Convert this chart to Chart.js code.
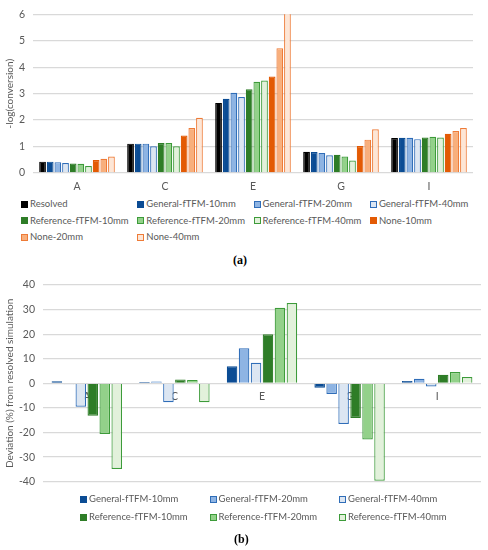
<!DOCTYPE html>
<html><head><meta charset="utf-8">
<script src="https://cdn.jsdelivr.net/npm/chart.js@4"></script>
<style>
html,body{margin:0;padding:0;background:#fff;width:488px;height:550px;overflow:hidden;font-family:Lato,"Open Sans",sans-serif;}
.wrap{position:absolute;left:0;}
.leg{position:absolute;font-size:9.5px;color:#595959;white-space:nowrap;line-height:12px;}
.leg i{display:inline-block;width:7px;height:7px;margin-right:2px;vertical-align:-0.5px;box-sizing:border-box;}
.cap{position:absolute;font-family:"Liberation Serif","DejaVu Serif",serif;font-weight:bold;font-size:12px;color:#000;}
</style></head><body>
<div class="wrap" style="top:0"><canvas id="c1" width="488" height="195"></canvas></div>
<div class="wrap" style="top:270px"><canvas id="c2" width="488" height="226"></canvas></div>
<div id="leg1"></div><div id="leg2"></div>
<div class="cap" style="left:233px;top:253px">(a)</div>
<div class="cap" style="left:234px;top:532px">(b)</div>
<script>
const categories = ['A','C','E','G','I'];
const seriesNames = ['Resolved','General-fTFM-10mm','General-fTFM-20mm','General-fTFM-40mm','Reference-fTFM-10mm','Reference-fTFM-20mm','Reference-fTFM-40mm','None-10mm','None-20mm','None-40mm'];
// top chart: -log(conversion)
const resolved   = [0.43, 1.11, 2.65, 0.80, 1.32];
const gen10      = [0.43, 1.11, 2.81, 0.79, 1.33];
const gen20      = [0.41, 1.11, 3.03, 0.76, 1.33];
const gen40      = [0.38, 1.01, 2.87, 0.67, 1.28];
const ref10      = [0.36, 1.13, 3.17, 0.69, 1.34];
const ref20      = [0.35, 1.13, 3.45, 0.62, 1.37];
const ref40      = [0.26, 1.01, 3.50, 0.47, 1.34];
const none10     = [0.49, 1.42, 3.65, 1.02, 1.48];
const none20     = [0.54, 1.70, 4.72, 1.26, 1.59];
const none40     = [0.62, 2.09, 6.30, 1.65, 1.70];
const topTicks   = [0,1,2,3,4,5,6];
// bottom chart: deviation (%) from resolved simulation
const devGen10 = [0.9, 0.5, 7.0, -1.8, 1.0];
const devGen20 = [-0.4, 0.8, 14.3, -4.3, 1.9];
const devGen40 = [-9.5, -7.7, 8.4, -16.5, -1.3];
const devRef10 = [-13.2, 1.6, 20.0, -14.1, 3.5];
const devRef20 = [-20.6, 1.4, 30.7, -22.8, 4.6];
const devRef40 = [-34.8, -7.7, 32.7, -39.6, 2.6];
const bottomTicks = [-40,-30,-20,-10,0,10,20,30,40];

const fills   = ['#000000','#0B4C94','#8EB4E3','#DCE6F2','#2E7D27','#93D18A','#E2F1DB','#E35A04','#F8AF7C','#FDE6D6'];
const borders = ['#000000','#0B4C94','#2F6DB8','#2F6DB8','#2E7D27','#3D9B3A','#3D9B3A','#E35A04','#EE7B37','#EE7B37'];
const topData = [resolved,gen10,gen20,gen40,ref10,ref20,ref40,none10,none20,none40];
const botData = [devGen10,devGen20,devGen40,devRef10,devRef20,devRef40];
const botIdx = [1,2,3,4,5,6];

const FONT = 'Lato, "Open Sans", sans-serif';
const GRAY = '#595959';
Chart.defaults.font.family = FONT;
Chart.defaults.color = GRAY;
Chart.defaults.animation = false;

new Chart(document.getElementById('c1'), {
  type:'bar',
  data:{labels:categories, datasets: topData.map((d,i)=>({label:seriesNames[i],data:d,backgroundColor:fills[i],borderColor:borders[i],borderWidth:1.2,categoryPercentage:0.87,barPercentage:0.88}))},
  options:{responsive:false,
    layout:{padding:{top:11,right:15,left:0,bottom:0}},
    plugins:{legend:{display:false},tooltip:{enabled:false}},
    scales:{
      x:{grid:{display:false,drawTicks:false},border:{display:false},ticks:{padding:7,font:{size:10.5},color:GRAY},afterFit:s=>{s.height=22;}},
      y:{min:0,max:6,afterBuildTicks:s=>{s.ticks=topTicks.map(v=>({value:v}));},
         grid:{color:'#D9D9D9',drawTicks:false,lineWidth:1.3},border:{display:false},
         ticks:{padding:8,font:{size:10.5},color:GRAY},
         title:{display:true,text:'-log(conversion)',color:GRAY,font:{size:10},padding:{top:4,bottom:0}},
         afterFit:s=>{s.width=33;}}
    }}
});

new Chart(document.getElementById('c2'), {
  type:'bar',
  data:{labels:categories, datasets: botData.map((d,k)=>{const i=botIdx[k];return {label:seriesNames[i],data:d,backgroundColor:fills[i],borderColor:borders[i],borderWidth:1.2,categoryPercentage:0.82,barPercentage:0.88};})},
  options:{responsive:false,
    layout:{padding:{top:15,right:7,left:0,bottom:4}},
    plugins:{legend:{display:false},tooltip:{enabled:false}},
    scales:{
      x:{position:{y:0},grid:{display:false,drawTicks:false},border:{display:false},ticks:{padding:7,font:{size:10.5},color:GRAY}},
      y:{min:-40,max:40,afterBuildTicks:s=>{s.ticks=bottomTicks.map(v=>({value:v}));},
         grid:{color:'#D9D9D9',drawTicks:false,lineWidth:1.3},border:{display:false},
         ticks:{padding:8,font:{size:10.5},color:GRAY},
         title:{display:true,text:'Deviation (%) from resolved simulation',color:GRAY,font:{size:10},padding:{top:4,bottom:0}},
         afterFit:s=>{s.width=43;}}
    }}
});

function legend(id, idxs, cols, x0, pitch, y0, rowH){
  const host=document.getElementById(id);
  idxs.forEach((i,n)=>{
    const r=Math.floor(n/cols), c=n%cols;
    const d=document.createElement('div');
    d.className='leg';
    d.style.left=(x0+c*pitch)+'px';
    d.style.top=(y0+r*rowH)+'px';
    const b=document.createElement('i');
    b.style.background=fills[i];
    b.style.border='1.2px solid '+borders[i];
    d.appendChild(b);
    d.appendChild(document.createTextNode(seriesNames[i]));
    host.appendChild(d);
  });
}
legend('leg1',[0,1,2,3,4,5,6,7,8,9],4,21,116.3,198,16.5);
legend('leg2',botIdx,3,80,129.5,493,18);
</script></body></html>
